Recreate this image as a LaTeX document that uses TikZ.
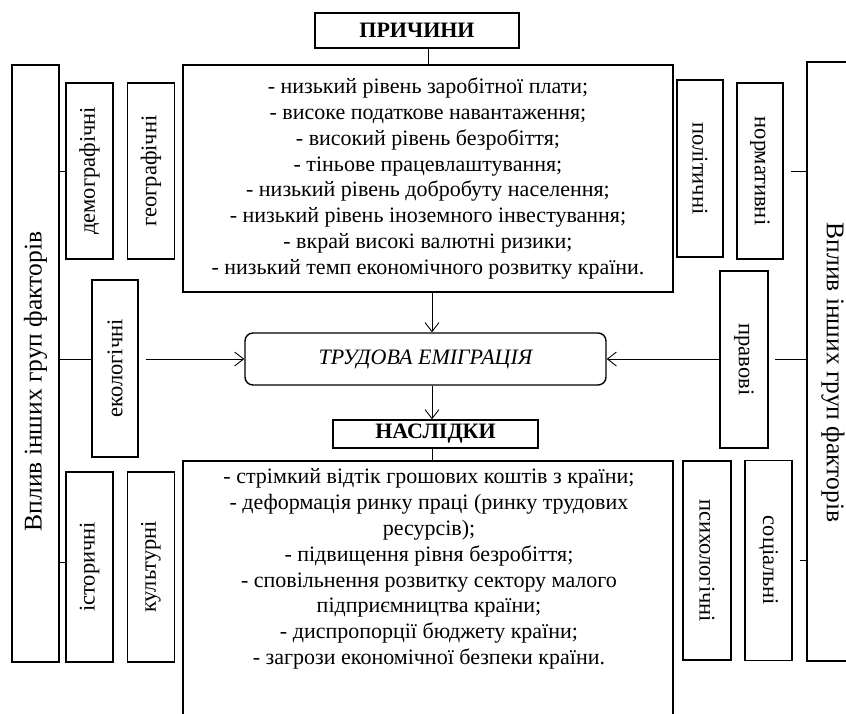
\documentclass[tikz,border=0pt]{standalone}
\usepackage{fontspec}
\setmainfont{Liberation Serif}
\usetikzlibrary{positioning,arrows.meta}

\begin{document}
\begin{tikzpicture}[
    x=1pt, y=-1pt,
    txt/.style={font=\fontsize{22}{25.8}\selectfont},
    box/.style={rectangle, draw, line width=1.4pt, inner sep=0pt, txt},
    head/.style={box, font=\fontsize{22}{25}\selectfont\bfseries},
    side/.style={box, minimum width=47, minimum height=177},
    vlab/.style={font=\fontsize{22.5}{25}\selectfont, rotate=90},
    vlabr/.style={vlab, rotate=180},
    biglab/.style={font=\fontsize{25.5}{28}\selectfont},
    link/.style={line width=0.9pt},
    arrow/.style={link, -{Straight Barb[length=9pt,width=14pt]}},
]
\useasboundingbox (0,0) rectangle (846,713);
\clip (0,0) rectangle (846,713);

% Causes
\node[head, minimum width=204, minimum height=35] (prych) at (417,30.5) {ПРИЧИНИ};
\node[box, minimum width=490, minimum height=227, align=center] (causes) at (428,178.5) {- низький рівень заробітної плати;\\- високе податкове навантаження;\\- високий рівень безробіття;\\- тіньове працевлаштування;\\- низький рівень добробуту населення;\\- низький рівень іноземного інвестування;\\- вкрай високі валютні ризики;\\- низький темп економічного розвитку країни.};

% Centre
\node[box, rounded corners=8pt, minimum width=361, minimum height=52, font=\fontsize{22}{25}\selectfont\itshape] (emig) at (425.5,359) {ТРУДОВА ЕМІГРАЦІЯ};

% Consequences
\node[head, minimum width=205, minimum height=28] (nasl) at (435.5,434) {НАСЛІДКИ};
\node[box, minimum width=490, minimum height=299] (cons) at (428,610.5) {};
\node[txt, align=center] (constxt) at (429,569) {- стрімкий відтік грошових коштів з країни;\\- деформація ринку праці (ринку трудових\\ресурсів);\\- підвищення рівня безробіття;\\- сповільнення розвитку сектору малого\\підприємництва країни;\\- диспропорції бюджету країни;\\- загрози економічної безпеки країни.};

% Left factor groups
\node[box, minimum width=47, minimum height=597] (bigL) at (35.5,363.5) {};
\node[biglab, rotate=90] at ([yshift=-18]bigL.center) {Вплив інших груп факторів};

\node[side, minimum height=176] (demo) at (89.5,171) {};
\node[vlab] at (demo.center) {демографічні};
\node[side, minimum height=176, right=13pt of demo] (geo) {};
\node[vlab] at (geo.center) {географічні};
\node[side, minimum width=46] (eco) at (115,368.5) {};
\node[vlab] at (eco.center) {екологічні};
\node[side, minimum height=190] (ist) at (89.5,567) {};
\node[vlab] at (ist.center) {історичні};
\node[side, minimum height=190, right=13pt of ist] (kult) {};
\node[vlab] at (kult.center) {культурні};

% Right factor groups
\node[box, minimum width=48, minimum height=599] (bigR) at (831,361.5) {};
\node[biglab, rotate=-90] at ([xshift=2, yshift=-11]bigR.center) {Вплив інших груп факторів};

\node[side, minimum width=46] (polit) at (700,168.5) {};
\node[vlabr] at (polit.center) {політичні};
\node[side, minimum width=46, minimum height=176] (norm) at (760,171) {};
\node[vlabr] at (norm.center) {нормативні};
\node[side, minimum width=48] (prav) at (744,359.5) {};
\node[vlabr] at (prav.center) {правові};
\node[side, minimum width=48, minimum height=199] (psych) at (707,560.5) {};
\node[vlabr] at (psych.center) {психологічні};
\node[side, minimum height=200, right=12.5pt of psych] (soc) {};
\node[vlabr] at (soc.center) {соціальні};

% Connectors
\draw[link] (prych.south -| causes.north) -- (causes.north);
\draw[arrow] ([xshift=4]causes.south) -- ([xshift=4]causes.south |- emig.north);
\draw[arrow] ([xshift=6.5]emig.south) -- ([xshift=6.5]emig.south |- nasl.north);
\draw[link] ([xshift=-3.5]nasl.south) -- ([xshift=-3.5]nasl.south |- cons.north);

\draw[link] (bigL.east |- demo.west) -- (demo.west);
\draw[link] (bigL.east |- emig.west) -- (eco.west |- emig.west);
\draw[arrow, shorten <=7pt] (eco.east |- emig.west) -- (emig.west);
\draw[link] (bigL.east |- ist.west) ++(0,-5) -- ([yshift=5]ist.west);

\draw[link, shorten >=7pt] (bigR.west |- norm.east) -- (norm.east);
\draw[link, shorten >=6pt] (bigR.west |- emig.east) -- (prav.east |- emig.east);
\draw[arrow] (prav.west |- emig.east) -- (emig.east);
\draw[link, shorten >=7pt] (bigR.west |- soc.east) -- (soc.east);

\end{tikzpicture}
\end{document}
